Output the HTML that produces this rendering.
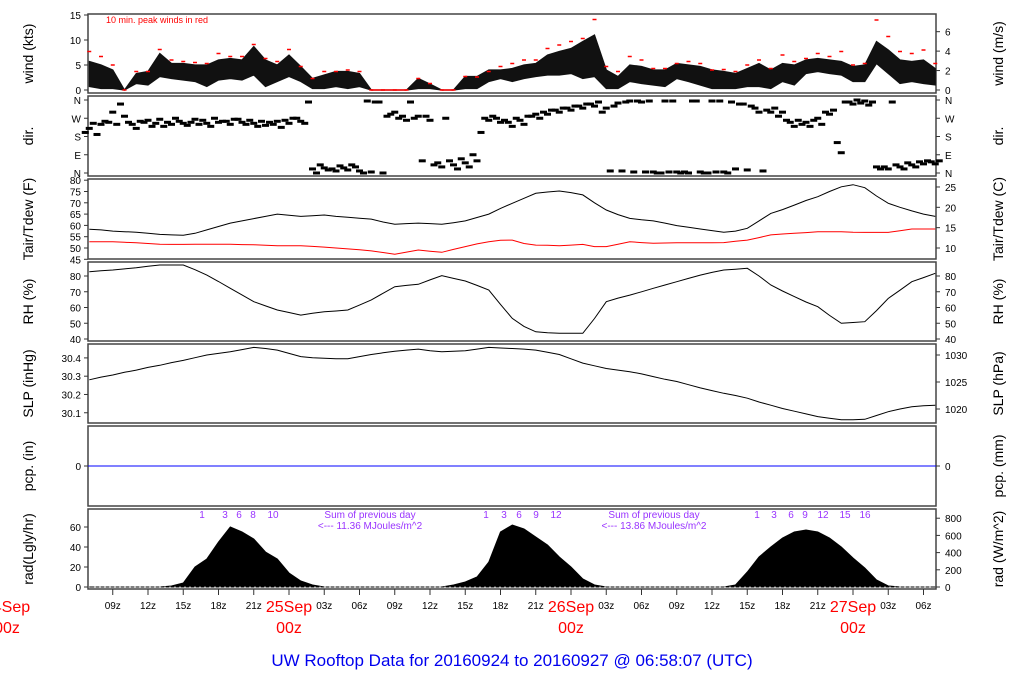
<!DOCTYPE html>
<html><head><meta charset="utf-8"><style>
html,body{margin:0;padding:0;background:#fff;}
svg{display:block;font-family:"Liberation Sans",sans-serif;}
</style></head><body>
<svg id="chart" width="1024" height="700" viewBox="0 0 1024 700" xmlns="http://www.w3.org/2000/svg">
<g id="g"></g>
<text x="512" y="666" text-anchor="middle" font-size="17" fill="#0000ee">UW Rooftop Data for 20160924  to  20160927 @ 06:58:07  (UTC)</text>
</svg>
<script>
// hourly data, hour index from 24Sep 07z (h=7) to 27Sep 07z (h=79)
const startHour = 7;
const windHigh = [5.7,5,4,0,3.3,3.7,7.3,5.3,5.3,5,5,6,6.3,6,8.7,6,5,7,4.7,2.3,3,3.7,3.7,3.3,0,0,0,0,2.3,1.2,0,0,2.7,2.7,4,4,4.3,5,5.3,7,7.7,8.3,9.7,11,4,2.7,5,4.7,4,4,5.3,5,4.7,4,3.7,3.3,4.3,5.3,4,5.3,5,6,6.3,6,5.7,4.7,5,9.7,8,6,5.7,6,4.3];
const windLow = [0.7,0.3,0.3,0,1.3,1,2.7,2.3,2,1.7,0.7,2,2.3,2,3,0.7,1.7,2.7,1.7,0.3,0.3,0.7,0.3,0.7,0,0,0,0,0.3,0.3,0,0,0.3,0.3,1.7,2.3,1.7,2.3,2.7,3,3,3.3,2.3,2.7,0.3,0.3,1.7,1.3,1,0.7,2.3,1.7,1,0.3,0.3,0.3,0.7,0.7,0.3,1.7,1,3.3,3.7,3.3,3,1.7,1.7,5.3,3.3,1.3,1.7,1.3,1];
const windGust = [7.7,6.7,5,0,3.7,3.7,8.1,6,5.7,5.5,5.3,7.3,6.7,6.7,9.1,6.3,5.7,8.1,4.7,2.3,3.7,3.7,4,3.7,0,0,0,0,2.3,1.3,0,0,2.7,2.6,3.7,4.7,5.3,6,6,8.3,9,9.7,10.3,14.1,4.7,3.7,6.7,6,4.3,4.3,5.3,5.7,5.3,4,4.1,3.7,5,6,4.3,7,5.7,6.3,7.3,6.7,7.7,5,5.3,14,10.7,7.7,7.3,8,5.3];
const dirA = [200,190,250,340,240,250,245,250,255,250,260,270,255,265,260,255,240,260,270,350,40,20,25,30,355,350,290,280,270,280,50,60,70,90,270,270,250,260,280,300,310,320,330,340,300,330,350,355,355,0,355,5,355,0,355,350,340,320,310,280,250,240,260,300,150,350,345,350,30,40,50,55,55];
const dirB = [220,240,300,280,220,260,265,240,245,265,245,250,240,250,245,235,255,245,255,20,25,10,15,10,5,0,300,260,280,260,30,40,50,60,260,250,230,240,290,290,300,310,320,330,320,345,355,350,5,355,5,0,5,355,5,20,15,300,300,300,230,250,270,290,100,340,355,30,20,30,40,45,45];
const dirC = [245,255,240,250,255,230,230,270,235,240,230,255,265,240,230,250,225,270,245,0,15,35,40,0,350,280,270,350,60,40,270,20,30,200,280,260,270,280,270,310,320,330,340,350,10,10,5,5,0,5,0,355,0,5,0,340,330,10,320,260,260,230,240,310,350,360,335,20,350,20,30,60,60];
const tempF = [58.3,58,57.5,57.2,57,56.5,56,55.8,55.6,56.5,58,59.5,61,62,63,64,65,64.5,64,64.3,64.6,64,63.6,63.2,62.8,61.5,60.5,60.8,61,60.8,60.5,61.2,62,63.5,65,67.5,69.8,72,74.2,74.8,75.2,74.5,73.5,70,66.8,64.8,63.1,62.5,62,61,59.9,59.2,58.4,57.7,57,57.5,58.7,62,65.3,67,69,71,72.7,75,77.1,78,76.7,73,69.8,68,66.4,65,64];
const dewF = [52.8,52.8,52.8,52.5,52.3,52,51.7,51.6,51.6,51.7,51.7,51.7,51.7,51.5,51.4,51.2,51,51,51,50.7,50.4,50,49.6,49.2,48.7,48,47.2,48.2,49.1,48.6,48.1,49.4,50.6,51.8,52.8,53.4,53.5,52,51.3,51.2,51,51.3,51.6,50.6,50.6,51.7,52.8,52.4,52.1,52.2,52.3,52.3,52.3,52.3,52.4,53,53.5,54.6,55.8,56.2,56.5,56.8,57.2,57.2,57.2,57,56.9,56.9,56.9,57.6,58.4,58.4,58.4];
const rh = [82.7,83.3,83.8,84.5,85.3,86.2,87,87,87,84,80.6,76.5,72.2,68,63.7,61,58.4,56.8,55.2,56.3,57.3,57.8,58.4,61.5,64.8,69,73.2,74,74.7,77.5,80.2,78.5,76.8,74,71.1,62,53.1,48,44.6,44,43.6,43.6,43.6,53,63.7,66,67.9,70,72.2,74.3,76.4,78.5,80.6,82.3,83.8,84.3,84.9,80,74.3,70.5,66.9,63.5,60.5,55,50,50.5,51,58,65.8,71,76.4,79,81.7];
const slpHpa = [1025.4,1025.9,1026.3,1026.8,1027.2,1027.7,1028.1,1028.6,1029,1029.5,1030,1030.3,1030.6,1031,1031.4,1031.2,1030.9,1030.3,1029.7,1029.5,1029.4,1029.3,1029.3,1029.7,1030.1,1030.4,1030.7,1030.9,1031.1,1030.8,1030.6,1030.7,1030.8,1031.1,1031.4,1031.3,1031.2,1031.1,1030.9,1030.5,1030.1,1029.3,1028.5,1028,1027.5,1027.2,1026.9,1026.5,1026,1025.5,1025.1,1024.5,1023.9,1023.4,1022.9,1022.5,1022,1021.3,1020.7,1020.1,1019.6,1019.1,1018.6,1018.3,1018,1018,1018.1,1018.8,1019.5,1020,1020.4,1020.6,1020.7];
const rad = [0,0,0,0,0,0,0,1,4,20,28,45,60,55,48,35,28,14,6,2,0,0,0,0,0,0,0,0,0,0,0,2,5,10,25,55,62,58,50,42,30,20,8,2,0,0,0,0,0,0,0,0,0,0,0,2,15,30,40,49,55,57,55,49,40,29,19,7,1,0,0,0,0];
const timeTickHours = [9,12,15,18,21,27,30,33,36,39,42,45,51,54,57,60,63,66,69,75,78];
const dayHours = [0,24,48,72];
const dayLabels = ['24Sep','25Sep','26Sep','27Sep'];

const NS='http://www.w3.org/2000/svg';
const g=document.getElementById('g');
const X0=88, X1=936;
const xH = h => 7 + h*282/24;
function el(tag, attrs, parent){const e=document.createElementNS(NS,tag);for(const k in attrs)e.setAttribute(k,attrs[k]);(parent||g).appendChild(e);return e;}
function txt(x,y,s,attrs){const t=el('text',Object.assign({x:x,y:y},attrs||{}));t.textContent=s;return t;}

const panels=[
 {n:'wind',t:14,b:93,l:'wind (kts)',r:'wind (m/s)'},
 {n:'dir',t:96,b:176,l:'dir.',r:'dir.'},
 {n:'temp',t:179,b:259,l:'Tair/Tdew (F)',r:'Tair/Tdew (C)'},
 {n:'rh',t:262,b:341,l:'RH (%)',r:'RH (%)'},
 {n:'slp',t:344,b:423,l:'SLP (inHg)',r:'SLP (hPa)'},
 {n:'pcp',t:426,b:506,l:'pcp. (in)',r:'pcp. (mm)'},
 {n:'rad',t:509,b:589,l:'rad(Lgly/hr)',r:'rad (W/m^2)'}];
panels.forEach(p=>{
 const r=el('rect',{x:X0,y:p.t,width:X1-X0,height:p.b-p.t,fill:'none',stroke:'#444','stroke-width':1.5});
 
 
 const cy=(p.t+p.b)/2;
 const a=txt(33,cy,p.l,{'font-size':14,'text-anchor':'middle',transform:'rotate(-90 33 '+cy+')'});
 
 
 const b=txt(1003,cy,p.r,{'font-size':14,'text-anchor':'middle',transform:'rotate(-90 1003 '+cy+')'});
 
 
});
function tick(side,y,label,name){
 const x=side==='l'?X0:X1;
 const d=side==='l'?-4:4;
 const ln=el('line',{x1:x,y1:y,x2:x+d,y2:y,stroke:'#333'});
 
 
 const t=txt(side==='l'?X0-7:X1+9,y+4,label,{'font-size':10,'text-anchor':side==='l'?'end':'start'});
 
 
}
const yWind=v=>90-v*5;
const yDir=d=>173-d*73/360;
const yF=f=>248-(f-50)*2.26;
const yC=c=>yF(c*9/5+32);
const yRH=v=>276-(v-80)*1.575;
const yHpa=p=>409-(p-1020)*5.4;
const yRad=v=>587-v;
[0,5,10,15].forEach(v=>tick('l',yWind(v),v,'wind-kts'));
[0,2,4,6].forEach(v=>tick('r',yWind(v*1.944),v,'wind-ms'));
[[360,'N'],[270,'W'],[180,'S'],[90,'E'],[0,'N']].forEach(a=>{tick('l',yDir(a[0]),a[1],'dir-left');tick('r',yDir(a[0]),a[1],'dir-right');});
[45,50,55,60,65,70,75,80].forEach(v=>tick('l',yF(v),v,'temp-f'));
[10,15,20,25].forEach(v=>tick('r',yC(v),v,'temp-c'));
[40,50,60,70,80].forEach(v=>{tick('l',yRH(v),v,'rh-left');tick('r',yRH(v),v,'rh-right');});
['30.1','30.2','30.3','30.4'].forEach(v=>tick('l',yHpa(parseFloat(v)*33.8639),v,'slp-inhg'));
[1020,1025,1030].forEach(v=>tick('r',yHpa(v),v,'slp-hpa'));
tick('l',466,0,'pcp-in');tick('r',466,0,'pcp-mm');
[0,20,40,60].forEach(v=>tick('l',yRad(v),v,'rad-lgly'));
[0,200,400,600,800].forEach(v=>tick('r',yRad(v/11.63),v,'rad-wm2'));

const H=i=>startHour+i;
function line(arr,yf,color,name,w){
 const pts=arr.map((v,i)=>xH(H(i)).toFixed(1)+','+yf(v).toFixed(1)).join(' ');
 const p=el('polyline',{points:pts,fill:'none',stroke:color,'stroke-width':w||1});
 
 
}
{
 let pts=windHigh.map((v,i)=>xH(H(i)).toFixed(1)+','+yWind(v).toFixed(1));
 pts=pts.concat(windLow.map((v,i)=>xH(H(i)).toFixed(1)+','+yWind(v).toFixed(1)).reverse());
 const p=el('polygon',{points:pts.join(' '),fill:'#111',stroke:'#111','stroke-width':1.2});
 
 
 windGust.forEach((v,i)=>{
  const x=xH(H(i));
  const d=el('line',{x1:x-2,y1:yWind(v),x2:x+2,y2:yWind(v),stroke:'#f00','stroke-width':1.5});
  
  
  if(v===0&&i+1<windGust.length&&windGust[i+1]===0){
   const z=el('line',{x1:x,y1:yWind(0),x2:xH(H(i+1)),y2:yWind(0),stroke:'#f00','stroke-width':1.5});
   
   
  }
 });
 const t=txt(106,23,'10 min. peak winds in red',{'font-size':9,fill:'#f00'});
 
 
}
[dirA,dirB,dirC].forEach((arr,k)=>arr.forEach((d,i)=>{
 const x=xH(H(i))+(k-1)*4;
 const r=el('rect',{x:x-3.5,y:yDir(d)-1.5,width:7,height:3,fill:'#000'});
 
 
}));
line(tempF,yF,'#000','air-temperature-line');
line(dewF,yF,'#f00','dewpoint-line');
line(rh,yRH,'#000','relative-humidity-line');
line(slpHpa,yHpa,'#000','sea-level-pressure-line');
{const p=el('line',{x1:X0,y1:466,x2:X1,y2:466,stroke:'#00f','stroke-width':1});
 
 }
{
 let pts=[xH(H(0))+','+yRad(0)];
 rad.forEach((v,i)=>pts.push(xH(H(i)).toFixed(1)+','+yRad(v).toFixed(1)));
 pts.push(xH(H(rad.length-1))+','+yRad(0));
 const p=el('polygon',{points:pts.join(' '),fill:'#000',stroke:'#000','stroke-width':1});
 
 
 const b=el('line',{x1:X0+6,y1:587,x2:X1-2,y2:587,stroke:'#888','stroke-width':1,'stroke-dasharray':'2 3'});
 
 
}
const purple='#9933ff';
const hourMarks=[['1',202],['3',225],['6',239],['8',253],['10',273],['1',486],['3',504],['6',519],['9',536],['12',556],['1',757],['3',774],['6',791],['9',805],['12',823],['15',845],['16',865]];
hourMarks.forEach(m=>{const t=txt(m[1],518,m[0],{'font-size':10,fill:purple,'text-anchor':'middle'});
 
 });
[[370,'Sum of previous day','<--- 11.36 MJoules/m^2'],[654,'Sum of previous day','<--- 13.86 MJoules/m^2']].forEach(s=>{
 const a=txt(s[0],518,s[1],{'font-size':10,fill:purple,'text-anchor':'middle'});
 
 
 const b=txt(s[0],529,s[2],{'font-size':10,fill:purple,'text-anchor':'middle'});
 
 
});
timeTickHours.forEach(h=>{
 const x=xH(h);
 const l=el('line',{x1:x,y1:589,x2:x,y2:595,stroke:'#333'});
 
 
 const hh=String(h%24).padStart(2,'0')+'z';
 const t=txt(x,609,hh,{'font-size':10,'text-anchor':'middle'});
 
 
});
dayHours.forEach((h,i)=>{
 const x=xH(h);
 if(x>X0){const l=el('line',{x1:x,y1:589,x2:x,y2:595,stroke:'#333'});
  
  }
 const a=txt(x,612,dayLabels[i],{'font-size':16,fill:'#f00','text-anchor':'middle'});
 
 
 const b=txt(x,633,'00z',{'font-size':16,fill:'#f00','text-anchor':'middle'});
 
 
});
</script>
</body></html>
